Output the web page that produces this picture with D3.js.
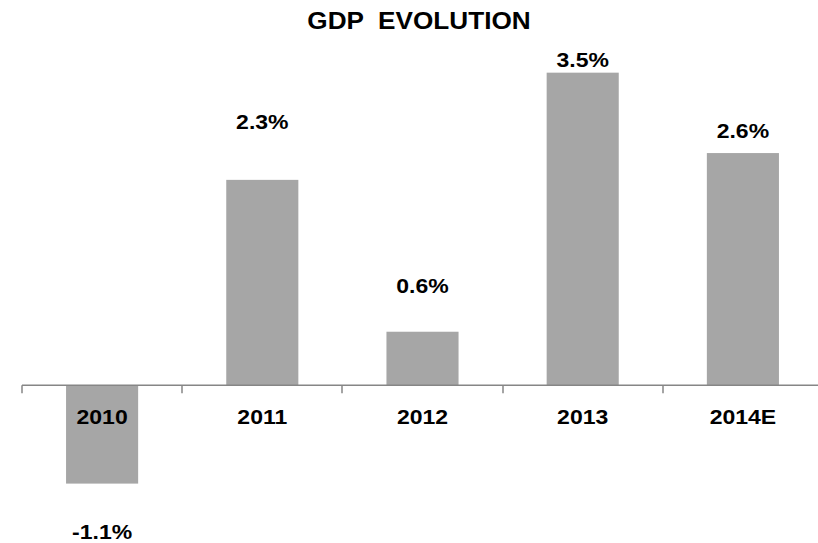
<!DOCTYPE html>
<html>
<head>
<meta charset="utf-8">
<script src="https://cdn.jsdelivr.net/npm/d3@7/dist/d3.min.js"></script>
<style>
  html, body { margin: 0; padding: 0; background: #fff; }
  svg { display: block; font-family: "Liberation Sans", Arial, sans-serif; }
</style>
</head>
<body>
<svg id="chart" width="818" height="543"></svg>
<script>
// GDP growth by year (%)
const years = ["2010", "2011", "2012", "2013", "2014E"];
const growth = [-1.1, 2.3, 0.6, 3.5, 2.6];
const valueLabels = ["-1.1%", "2.3%", "0.6%", "3.5%", "2.6%"];
const title = "GDP  EVOLUTION";

const W = 818, H = 543;
const svg = d3.select("#chart");

const x = d3.scaleBand()
  .domain(years)
  .range([22, 823])
  .paddingInner(0.55)
  .paddingOuter(0.275);

const y = d3.scaleLinear()
  .domain([-2, 4])
  .range([564, 28]);

const stretch = 1.15;

// title
svg.append("text")
  .attr("transform", `translate(419,29) scale(1.09,1)`)
  .attr("text-anchor", "middle")
  .attr("font-size", 24)
  .attr("font-weight", "bold")
  .attr("fill", "#000")
  .style("white-space", "pre")
  .attr("xml:space", "preserve")
  .text(title);

// bars
const data = years.map((yr, i) => ({ yr, v: growth[i], label: valueLabels[i] }));

svg.append("g").selectAll("rect")
  .data(data)
  .join("rect")
  .attr("x", d => x(d.yr))
  .attr("width", x.bandwidth())
  .attr("y", d => Math.min(y(d.v), y(0)))
  .attr("height", d => Math.abs(y(d.v) - y(0)))
  .attr("fill", "#a6a6a6");

// category axis along zero
const axisY = y(0);
const axis = svg.append("g").attr("stroke", "#868686").attr("stroke-width", 1.5);
axis.append("line")
  .attr("x1", x.range()[0]).attr("x2", W)
  .attr("y1", axisY).attr("y2", axisY);
d3.range(years.length + 1).forEach(i => {
  const tx = Math.round(x.range()[0] + i * x.step());
  axis.append("line")
    .attr("x1", tx).attr("x2", tx)
    .attr("y1", axisY).attr("y2", axisY + 8);
});

// category labels
svg.append("g").selectAll("text")
  .data(years)
  .join("text")
  .attr("transform", d => `translate(${x(d) + x.bandwidth() / 2},${axisY + 39}) scale(${stretch},1)`)
  .attr("text-anchor", "middle")
  .attr("font-size", 20)
  .attr("font-weight", "bold")
  .attr("fill", "#000")
  .text(d => d);

// value labels, each placed by hand above/below its bar end
const labelGap = { "2010": 55, "2011": 51, "2012": 39, "2013": 6, "2014E": 15 };
svg.append("g").selectAll("text")
  .data(data)
  .join("text")
  .attr("transform", d => {
    const cx = x(d.yr) + x.bandwidth() / 2;
    const cy = d.v >= 0 ? y(d.v) - labelGap[d.yr] : y(d.v) + labelGap[d.yr];
    return `translate(${cx},${cy}) scale(${stretch},1)`;
  })
  .attr("text-anchor", "middle")
  .attr("font-size", 20)
  .attr("font-weight", "bold")
  .attr("fill", "#000")
  .text(d => d.label);
</script>
</body>
</html>
